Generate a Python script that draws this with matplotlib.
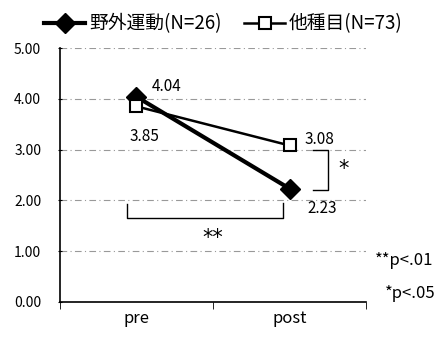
import matplotlib
matplotlib.use("Agg")
import matplotlib.pyplot as plt

plt.rcParams['font.family'] = ['Noto Sans CJK JP', 'DejaVu Sans']

# Data -------------------------------------------------------------------------
categories = ["pre", "post"]
outdoor = [4.04, 2.23]   # 野外運動 (N=26)
other = [3.85, 3.08]     # 他種目 (N=73)
outdoor_label = "野外運動(N=26)"
other_label = "他種目(N=73)"
yticks = [0, 1, 2, 3, 4, 5]

fig = plt.figure(figsize=(4.47, 3.53), dpi=100)
ax = fig.add_axes([0.134, 0.145, 0.685, 0.719])

x = list(range(len(categories)))
ax.plot(x, outdoor, color="black", lw=3, marker="D", ms=10,
        mfc="black", mec="black", label=outdoor_label, zorder=3)
ax.plot(x, other, color="black", lw=1.8, marker="s", ms=9,
        mfc="white", mec="black", mew=1.5, label=other_label, zorder=4)

ax.set_xlim(-0.5, 1.5)
ax.set_ylim(0, 5)
ax.set_yticks(yticks)
ax.set_yticklabels([f"{v:.2f}" for v in yticks], fontsize=10)
ax.set_xticks(x)
ax.set_xticklabels(categories, fontsize=12)
ax.tick_params(axis="x", length=0, pad=6)
ax.tick_params(axis="y", length=3, direction="inout", pad=12)
# category boundary ticks
ax.set_xticks([-0.5, 0.5, 1.5], minor=True)
ax.tick_params(axis="x", which="minor", length=5, direction="out")

ax.grid(axis="y", color="#999999", ls=(0, (6, 3, 1, 3)), lw=0.8)
ax.set_axisbelow(True)
for s in ["top", "right"]:
    ax.spines[s].set_visible(False)
ax.spines["left"].set_linewidth(1.2)
ax.spines["bottom"].set_linewidth(1.2)

# value labels
ax.text(0.1, 4.25, f"{outdoor[0]:.2f}", fontsize=11, ha="left", va="center")
ax.text(0.05, 3.25, f"{other[0]:.2f}", fontsize=11, ha="center", va="center")
ax.text(1.1, 3.2, f"{other[1]:.2f}", fontsize=11, ha="left", va="center")
ax.text(1.12, 1.83, f"{outdoor[1]:.2f}", fontsize=11, ha="left", va="center")

# significance brackets
ax.plot([-0.06, -0.06, 0.96, 0.96], [1.92, 1.65, 1.65, 1.94], color="black", lw=1)
ax.text(0.5, 1.25, "**", fontsize=15, ha="center", va="center", family="DejaVu Sans")
ax.plot([1.15, 1.25, 1.25, 1.15], [3.0, 3.0, 2.2, 2.2], color="black", lw=1)
ax.text(1.35, 2.62, "*", fontsize=15, ha="center", va="center", family="DejaVu Sans")

ax.text(1.56, 0.81, "**p<.01", fontsize=12, ha="left", va="center", clip_on=False)
ax.text(1.62, 0.16, "*p<.05", fontsize=12, ha="left", va="center", clip_on=False)

fig.legend(loc="upper center", bbox_to_anchor=(0.5, 1.01), ncol=2, frameon=False,
           fontsize=13.5, handlelength=2.2, columnspacing=1.2, handletextpad=0.2)

fig.savefig("out.png", dpi=100, facecolor="white")
